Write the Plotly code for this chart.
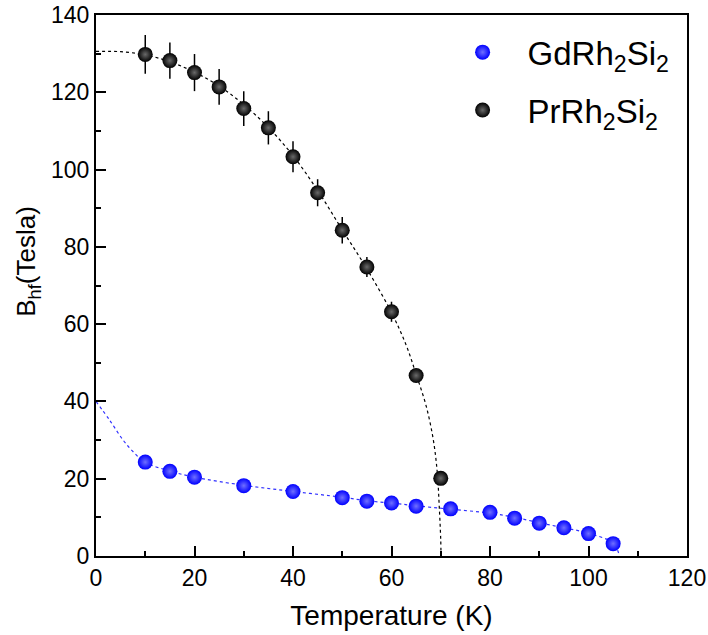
import plotly.graph_objects as go

# GdRh2Si2 data
gd_temp = [10, 15, 20, 30, 40, 50, 55, 60, 65, 72, 80, 85, 90, 95, 100, 105]
gd_bhf = [24.3, 21.9, 20.4, 18.2, 16.7, 15.1, 14.2, 13.7, 12.9, 12.2, 11.3, 9.8, 8.5, 7.3, 5.8, 3.2]

# PrRh2Si2 data
pr_temp = [10, 15, 20, 25, 30, 35, 40, 45, 50, 55, 60, 65, 70]
pr_bhf = [129.8, 128.2, 125.1, 121.4, 115.8, 110.8, 103.3, 94.0, 84.3, 74.8, 63.2, 46.7, 20.1]
pr_err = [5.0, 4.7, 4.8, 4.6, 4.5, 4.3, 4.0, 3.5, 3.4, 2.6, 2.6, 1.2, 1.0]

# fitted curves
gd_fit_t = [0, 2.8, 5.5, 7.6, 10, 15, 20, 30, 40, 50, 55, 60, 65, 72, 80, 85, 90, 95, 100, 105, 106.3]
gd_fit_b = [40, 35.1, 30.0, 26.9, 24.2, 22.0, 20.4, 18.3, 16.7, 15.2, 14.3, 13.7, 13.0, 12.1, 11.1, 10.0, 8.6, 7.3, 5.9, 3.3, 0]
pr_fit_t = [0, 5, 10, 15, 20, 25, 30, 35, 40, 45, 50, 55, 60, 63, 65, 67, 68.5, 69.3, 69.7, 70.0, 70.05]
pr_fit_b = [130.6, 130.5, 129.7, 127.9, 125.2, 121.6, 116.8, 110.9, 103.6, 94.6, 84.4, 74.3, 63.0, 54.5, 47.0, 39.0, 30.0, 21.5, 12.7, 4.0, 0]

fig = go.Figure()

fig.add_trace(go.Scatter(
    x=gd_fit_t, y=gd_fit_b, mode="lines", showlegend=False, hoverinfo="skip",
    line=dict(color="#3030ff", width=1.2, dash="dot", shape="spline"),
))
fig.add_trace(go.Scatter(
    x=pr_fit_t, y=pr_fit_b, mode="lines", showlegend=False, hoverinfo="skip",
    line=dict(color="black", width=1.2, dash="dot", shape="spline"),
))

fig.add_trace(go.Scatter(
    x=gd_temp, y=gd_bhf, mode="markers", name="GdRh<sub>2</sub>Si<sub>2</sub>",
    legendgroup="gd",
    marker=dict(size=15, color="#0000ff", line=dict(width=0),
                gradient=dict(type="radial", color="#7070ff")),
))
fig.add_trace(go.Scatter(
    x=pr_temp, y=pr_bhf, mode="markers", name="PrRh<sub>2</sub>Si<sub>2</sub>",
    legendgroup="pr",
    error_y=dict(type="data", array=pr_err, color="black", thickness=1.5, width=0),
    marker=dict(size=15, color="#000000", line=dict(width=0),
                gradient=dict(type="radial", color="#6a6a6a")),
))

tick_font = dict(family="Liberation Sans, Arial, sans-serif", size=23, color="black")

fig.update_layout(
    width=708,
    height=635,
    margin=dict(l=96, r=21, t=15, b=79),
    plot_bgcolor="white",
    paper_bgcolor="white",
    font=dict(family="Liberation Sans, Arial, sans-serif", color="black"),
    legend=dict(
        x=0.578, y=0.983, xanchor="left", yanchor="top",
        font=dict(size=33, color="black"),
        bgcolor="rgba(0,0,0,0)",
        traceorder="grouped",
        tracegroupgap=12,
        itemwidth=80,
    ),
    xaxis=dict(
        range=[0, 120], dtick=20, tick0=0, automargin=False,
        showgrid=False, zeroline=False,
        showline=True, linecolor="black", linewidth=2, mirror=True,
        ticks="inside", ticklen=10, tickwidth=2, tickcolor="black",
        minor=dict(ticks="inside", ticklen=5, tickwidth=2, tickcolor="black", dtick=10),
        tickfont=tick_font,
        title=dict(text="Temperature (K)", font=dict(size=28), standoff=16),
    ),
    yaxis=dict(
        range=[0, 140], dtick=20, tick0=0, automargin=False,
        showgrid=False, zeroline=False,
        showline=True, linecolor="black", linewidth=2, mirror=True,
        ticks="inside", ticklen=10, tickwidth=2, tickcolor="black",
        minor=dict(ticks="inside", ticklen=5, tickwidth=2, tickcolor="black", dtick=10),
        tickfont=tick_font,
    ),
    annotations=[dict(
        text="B<sub>hf</sub>(Tesla)", textangle=-90, showarrow=False,
        xref="paper", yref="paper", x=-0.115, y=0.544,
        xanchor="center", yanchor="middle",
        font=dict(size=26, color="black"),
    )],
)

# drop the default page margin so the figure sits at the window's corner
fig.write_html("out.html", config={"displayModeBar": False},
               post_script="document.body.style.margin='0';")
